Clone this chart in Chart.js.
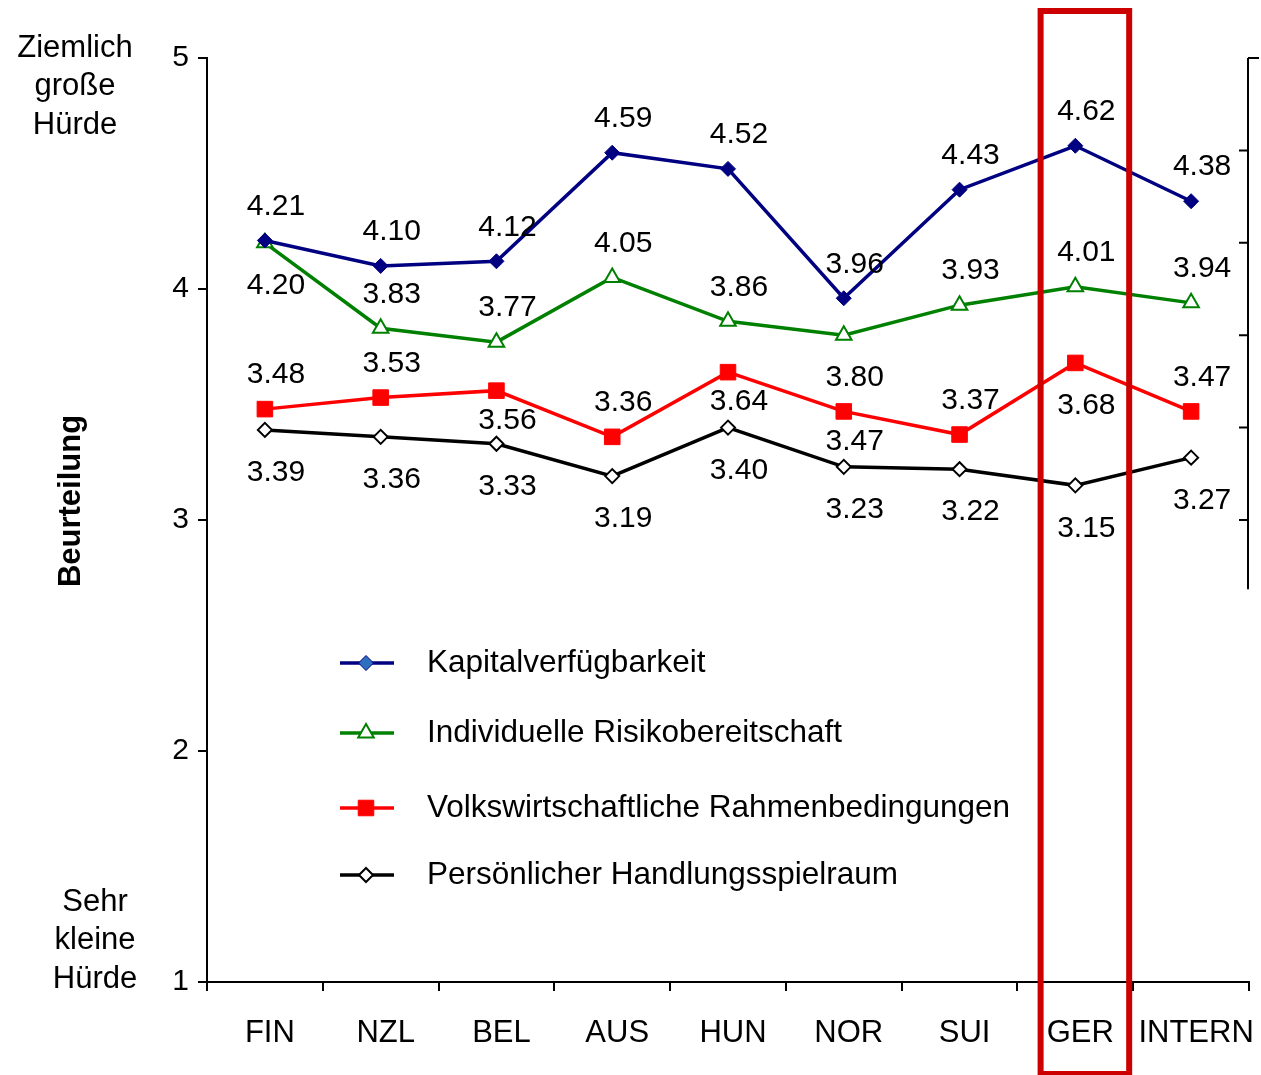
<!DOCTYPE html>
<html>
<head>
<meta charset="utf-8">
<script src="https://cdn.jsdelivr.net/npm/chart.js@4.4.1/dist/chart.umd.min.js"></script>
<style>
  html, body { margin: 0; padding: 0; background: #fff; }
  #wrap { width: 1261px; height: 1075px; }
</style>
</head>
<body>
<div id="wrap"><canvas id="chart" width="1261" height="1075"></canvas></div>
<script>
const countries = ["FIN", "NZL", "BEL", "AUS", "HUN", "NOR", "SUI", "GER", "INTERN"];
const kapital = [4.21, 4.10, 4.12, 4.59, 4.52, 3.96, 4.43, 4.62, 4.38];
const risiko = [4.20, 3.83, 3.77, 4.05, 3.86, 3.80, 3.93, 4.01, 3.94];
const volkswirtschaft = [3.48, 3.53, 3.56, 3.36, 3.64, 3.47, 3.37, 3.68, 3.47];
const handlung = [3.39, 3.36, 3.33, 3.19, 3.40, 3.23, 3.22, 3.15, 3.27];
const yTicks = [1, 2, 3, 4, 5];
const seriesNames = [
    "Kapitalverfügbarkeit",
    "Individuelle Risikobereitschaft",
    "Volkswirtschaftliche Rahmenbedingungen",
    "Persönlicher Handlungsspielraum",
];
const highlighted = "GER";

// where the value label sits: a = above, b = below, n = just below
const labelSide = [
    ["a", "a", "a", "a", "a", "a", "a", "a", "a"],
    ["b", "a", "a", "a", "a", "b", "a", "a", "a"],
    ["a", "a", "n", "a", "n", "n", "a", "b", "a"],
    ["b", "b", "b", "b", "b", "b", "b", "b", "b"],
];
const labelShift = { a: -34, b: 43, n: 30 };

const FONT = '"Liberation Sans", Arial, sans-serif';

const overlay = {
    id: "overlay",
    afterDatasetsDraw(chart) {
        const ctx = chart.ctx;
        ctx.save();
        ctx.font = "30px " + FONT;
        ctx.fillStyle = "#000";
        ctx.textAlign = "center";
        ctx.textBaseline = "middle";
        chart.data.datasets.forEach((ds, i) => {
            chart.getDatasetMeta(i).data.forEach((pt, j) => {
                ctx.fillText(ds.data[j].toFixed(2), pt.x + 11, pt.y + labelShift[labelSide[i][j]]);
            });
        });

        // legend inside the plot
        const rows = [663, 733, 808, 875];
        ctx.font = "31.5px " + FONT;
        ctx.textAlign = "left";
        chart.data.datasets.forEach((ds, i) => {
            const y = rows[i];
            ctx.strokeStyle = ds.borderColor;
            ctx.lineWidth = 3.5;
            ctx.beginPath();
            ctx.moveTo(340, y);
            ctx.lineTo(394, y);
            ctx.stroke();
            ctx.fillStyle = i === 0 ? "#2f6fc0" : ds.pointBackgroundColor;
            ctx.strokeStyle = ds.pointBorderColor;
            ctx.lineWidth = ds.pointBorderWidth;
            Chart.helpers.drawPoint(ctx, {
                pointStyle: ds.pointStyle,
                radius: ds.pointRadius,
                rotation: 0,
                borderWidth: ds.pointBorderWidth,
            }, 366, y);
            ctx.fillStyle = "#000";
            ctx.fillText(ds.label, 427, y);
        });
        ctx.restore();
    },
    afterDraw(chart) {
        const ctx = chart.ctx;
        const x = chart.scales.x;
        const y = chart.scales.y;
        ctx.save();

        // axis title and scale end captions
        ctx.fillStyle = "#000";
        ctx.textAlign = "center";
        ctx.textBaseline = "middle";
        ctx.save();
        ctx.translate(71, 501);
        ctx.rotate(-Math.PI / 2);
        ctx.font = "bold 31px " + FONT;
        ctx.fillText("Beurteilung", 0, 0);
        ctx.restore();
        ctx.font = "31px " + FONT;
        ["Ziemlich", "große", "Hürde"].forEach((t, k) => ctx.fillText(t, 75, 48 + k * 38.5));
        ["Sehr", "kleine", "Hürde"].forEach((t, k) => ctx.fillText(t, 95, 902 + k * 38.5));

        // right-hand axis without labels
        const xr = chart.chartArea.right - 1;
        ctx.strokeStyle = "#000";
        ctx.lineWidth = 2;
        ctx.beginPath();
        ctx.moveTo(xr, y.getPixelForValue(5));
        ctx.lineTo(xr, y.getPixelForValue(2.7));
        ctx.moveTo(xr, y.getPixelForValue(5));
        ctx.lineTo(xr + 11, y.getPixelForValue(5));
        [4.6, 4.2, 3.8, 3.4, 3.0].forEach(v => {
            ctx.moveTo(xr, y.getPixelForValue(v));
            ctx.lineTo(xr - 9, y.getPixelForValue(v));
        });
        ctx.stroke();

        // frame around the highlighted country
        const i = countries.indexOf(highlighted);
        const left = x.getPixelForValue(i - 0.3);
        const right = x.getPixelForValue(i + 0.465);
        ctx.strokeStyle = "#cc0000";
        ctx.lineWidth = 6;
        ctx.strokeRect(left, 11, right - left, chart.height - 12);
        ctx.restore();
    },
};

const ctx = document.getElementById("chart").getContext("2d");
const chart = new Chart(ctx, {
    type: "line",
    data: {
        labels: countries,
        datasets: [
            {
                label: seriesNames[0],
                data: kapital,
                borderColor: "#000080",
                borderWidth: 3.5,
                pointStyle: "rectRot",
                pointRadius: 7.5,
                pointBackgroundColor: "#000080",
                pointBorderColor: "#000080",
                pointBorderWidth: 1,
            },
            {
                label: seriesNames[1],
                data: risiko,
                borderColor: "#008000",
                borderWidth: 3.5,
                pointStyle: "triangle",
                pointRadius: 9,
                pointBackgroundColor: "#ffffff",
                pointBorderColor: "#008000",
                pointBorderWidth: 2,
            },
            {
                label: seriesNames[2],
                data: volkswirtschaft,
                borderColor: "#ff0000",
                borderWidth: 3.5,
                pointStyle: "rect",
                pointRadius: 11,
                pointBackgroundColor: "#ff0000",
                pointBorderColor: "#ff0000",
                pointBorderWidth: 1,
            },
            {
                label: seriesNames[3],
                data: handlung,
                borderColor: "#000000",
                borderWidth: 3.5,
                pointStyle: "rectRot",
                pointRadius: 7,
                pointBackgroundColor: "#ffffff",
                pointBorderColor: "#000000",
                pointBorderWidth: 2,
            },
        ],
    },
    options: {
        responsive: false,
        devicePixelRatio: 1,
        animation: false,
        layout: { padding: { top: 58, right: 11, left: 0, bottom: 0 } },
        plugins: {
            legend: { display: false },
            tooltip: { enabled: false },
        },
        scales: {
            x: {
                offset: true,
                grid: { offset: true, drawOnChartArea: false, tickLength: 9, color: "#000", lineWidth: 2 },
                border: { display: true, color: "#000", width: 2 },
                ticks: { color: "#000", font: { family: FONT, size: 31 }, padding: 24, labelOffset: 5, maxRotation: 0, autoSkip: false },
                afterFit(scale) {
                    scale.height = 93;
                    scale.paddingLeft = 0;
                    scale.paddingRight = 0;
                },
            },
            y: {
                min: 1,
                max: 5,
                afterBuildTicks(scale) { scale.ticks = yTicks.map(v => ({ value: v })); },
                grid: { drawOnChartArea: false, tickLength: 9, color: "#000", lineWidth: 2 },
                border: { display: true, color: "#000", width: 2 },
                ticks: { color: "#000", font: { family: FONT, size: 30 }, padding: 9 },
                afterFit(scale) {
                    scale.width = 207;
                    scale.paddingTop = 0;
                    scale.paddingBottom = 0;
                },
            },
        },
    },
    plugins: [overlay],
});
</script>
</body>
</html>
